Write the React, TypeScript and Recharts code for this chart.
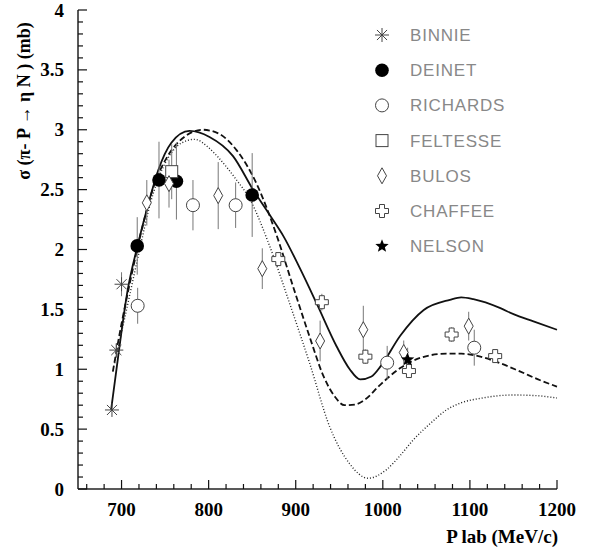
import React from 'react'
import {
  ComposedChart,
  Line,
  Scatter,
  ErrorBar,
  XAxis,
  YAxis,
} from 'recharts'

// theory curves, [P lab (MeV/c), sigma (mb)]
const solidCurve: [number, number][] = [
  [688, 0.66], [696, 1.1], [707, 1.66], [718, 2.02], [730, 2.36], [742, 2.66],
  [757, 2.89], [778, 2.99], [801, 2.94], [828, 2.78], [851, 2.5], [870, 2.29],
  [886, 2.11], [905, 1.84], [924, 1.55], [947, 1.19], [962, 1.0], [974, 0.915],
  [987, 0.94], [998, 1.03], [1020, 1.28], [1047, 1.495], [1077, 1.58], [1090, 1.6],
  [1104, 1.585], [1135, 1.51], [1150, 1.46], [1173, 1.4], [1200, 1.33],
]
const dashedCurve: [number, number][] = [
  [690, 0.98], [700, 1.38], [711, 1.77], [723, 2.16], [738, 2.55], [753, 2.78],
  [772, 2.94], [793, 3.0], [811, 2.97], [832, 2.83], [855, 2.55], [878, 2.12],
  [897, 1.69], [916, 1.27], [932, 0.94], [945, 0.77], [956, 0.7], [968, 0.705],
  [980, 0.75], [997, 0.87], [1020, 1.01], [1045, 1.1], [1073, 1.13], [1090, 1.13],
  [1112, 1.105], [1135, 1.05], [1158, 0.98], [1180, 0.91], [1200, 0.855],
]
const dottedCurve: [number, number][] = [
  [692, 1.05], [704, 1.44], [719, 1.94], [734, 2.41], [750, 2.72], [769, 2.89],
  [784, 2.92], [800, 2.85], [811, 2.77], [830, 2.6], [848, 2.41], [870, 2.03],
  [893, 1.55], [916, 1.05], [939, 0.52], [962, 0.21], [983, 0.09], [1004, 0.16],
  [1020, 0.28], [1035, 0.41], [1055, 0.55], [1073, 0.66], [1090, 0.72],
  [1112, 0.757], [1150, 0.785], [1175, 0.78], [1200, 0.76],
]

// measurements, [P lab, sigma, error]
const binnie: [number, number, number][] = [
  [689, 0.66, 0], [694, 1.16, 0.05], [700, 1.71, 0.1],
]
const deinet: [number, number, number][] = [
  [718, 2.03, 0.24], [743, 2.58, 0.32], [763, 2.57, 0.32], [850, 2.455, 0.35],
]
const richards: [number, number, number][] = [
  [718.5, 1.53, 0.15], [782, 2.37, 0.21], [831, 2.37, 0.19], [1005, 1.055, 0.14],
  [1105, 1.18, 0.15],
]
const feltesse: [number, number, number][] = [[757.6, 2.65, 0.23]]
const bulos: [number, number, number][] = [
  [729, 2.39, 0.19], [754.5, 2.55, 0.2], [811, 2.45, 0.28], [861.6, 1.84, 0.17],
  [928, 1.236, 0.17], [977.6, 1.33, 0.2], [1024, 1.14, 0.1], [1098.6, 1.36, 0.12],
]
const chaffee: [number, number, number][] = [
  [880, 1.92, 0.05], [930, 1.56, 0.07], [980, 1.105, 0.06], [1030, 0.985, 0.05],
  [1079, 1.29, 0.06], [1129, 1.11, 0.05],
]
const nelson: [number, number, number][] = [[1028.5, 1.08, 0.1]]

const X_DOMAIN: [number, number] = [650, 1200]
const Y_DOMAIN: [number, number] = [0, 4]
const X_MAJOR = [700, 800, 900, 1000, 1100, 1200]
const Y_MAJOR = [0, 0.5, 1, 1.5, 2, 2.5, 3, 3.5, 4]
const X_MINOR = Array.from({ length: 28 }, (_, i) => 660 + i * 20)
const Y_MINOR = Array.from({ length: 41 }, (_, i) => i / 10)

// plot box, from the chart margins below
const PLOT = { left: 78, top: 10, width: 479, height: 479 }

const toCurve = (arr: [number, number][]) => arr.map(([p, s]) => ({ p, s }))
const toPts = (arr: [number, number, number][]) => arr.map(([p, s, err]) => ({ p, s, err }))

type Kind = 'asterisk' | 'filled' | 'circle' | 'square' | 'diamond' | 'cross' | 'star'

const SERIES: { name: string; kind: Kind; data: [number, number, number][] }[] = [
  { name: 'BINNIE', kind: 'asterisk', data: binnie },
  { name: 'DEINET', kind: 'filled', data: deinet },
  { name: 'RICHARDS', kind: 'circle', data: richards },
  { name: 'FELTESSE', kind: 'square', data: feltesse },
  { name: 'BULOS', kind: 'diamond', data: bulos },
  { name: 'CHAFFEE', kind: 'cross', data: chaffee },
  { name: 'NELSON', kind: 'star', data: nelson },
]

const INK = '#444'
const SERIF = '"Liberation Serif", "Times New Roman", serif'

function Marker({ kind, cx, cy }: { kind: Kind; cx: number; cy: number }) {
  if (cx == null || cy == null) return null
  switch (kind) {
    case 'asterisk': {
      const r = 7
      const d = r * 0.72
      return (
        <g stroke={INK} strokeWidth={1}>
          <line x1={cx - r} y1={cy} x2={cx + r} y2={cy} />
          <line x1={cx} y1={cy - r} x2={cx} y2={cy + r} />
          <line x1={cx - d} y1={cy - d} x2={cx + d} y2={cy + d} />
          <line x1={cx - d} y1={cy + d} x2={cx + d} y2={cy - d} />
        </g>
      )
    }
    case 'filled':
      return <circle cx={cx} cy={cy} r={6.8} fill="#000" />
    case 'circle':
      return <circle cx={cx} cy={cy} r={6.5} fill="#fff" stroke={INK} strokeWidth={1} />
    case 'square':
      return <rect x={cx - 6} y={cy - 6} width={12} height={12} fill="#fff" stroke={INK} strokeWidth={1} />
    case 'diamond':
      return (
        <polygon
          points={`${cx},${cy - 8} ${cx + 4.5},${cy} ${cx},${cy + 8} ${cx - 4.5},${cy}`}
          fill="#fff"
          stroke={INK}
          strokeWidth={1}
        />
      )
    case 'cross': {
      const a = 2.5
      const b = 6.5
      const pts = [
        [-a, -b], [a, -b], [a, -a], [b, -a], [b, a], [a, a],
        [a, b], [-a, b], [-a, a], [-b, a], [-b, -a], [-a, -a],
      ].map(([x, y]) => `${cx + x},${cy + y}`).join(' ')
      return <polygon points={pts} fill="#fff" stroke={INK} strokeWidth={1} />
    }
    case 'star': {
      const pts: string[] = []
      for (let i = 0; i < 10; i++) {
        const r = i % 2 === 0 ? 7 : 3
        const ang = -Math.PI / 2 + (i * Math.PI) / 5
        pts.push(`${cx + r * Math.cos(ang)},${cy + r * Math.sin(ang)}`)
      }
      return <polygon points={pts.join(' ')} fill="#000" />
    }
  }
  return null
}

function XLabel(props: any) {
  const { x, y, payload } = props
  return (
    <text x={x} y={y + 27} textAnchor="middle" fontFamily={SERIF} fontWeight="bold" fontSize={19} fill="#000">
      {payload.value}
    </text>
  )
}

function YLabel(props: any) {
  const { x, y, payload } = props
  return (
    <text x={x - 14} y={y + 6.5} textAnchor="end" fontFamily={SERIF} fontWeight="bold" fontSize={19} fill="#000">
      {payload.value}
    </text>
  )
}

const px = (v: number) => PLOT.left + ((v - X_DOMAIN[0]) / (X_DOMAIN[1] - X_DOMAIN[0])) * PLOT.width
const py = (v: number) => PLOT.top + PLOT.height - ((v - Y_DOMAIN[0]) / (Y_DOMAIN[1] - Y_DOMAIN[0])) * PLOT.height

// inward ticks, titles and key, laid over the chart
function Overlay() {
  const bottom = PLOT.top + PLOT.height
  return (
    <svg
      width={598}
      height={547}
      style={{ position: 'absolute', left: 0, top: 0, pointerEvents: 'none' }}
    >
      <g stroke="#111" strokeWidth={1.2}>
        {X_MINOR.map((v) => (
          <line key={`x${v}`} x1={px(v)} x2={px(v)} y1={bottom} y2={bottom - (X_MAJOR.includes(v) ? 9 : 5)} />
        ))}
        {Y_MINOR.map((v) => (
          <line
            key={`y${v}`}
            x1={PLOT.left}
            x2={PLOT.left + (Y_MAJOR.includes(v) ? 9 : 5)}
            y1={py(v)}
            y2={py(v)}
          />
        ))}
      </g>
      <text x={558} y={543} textAnchor="end" fontFamily={SERIF} fontWeight="bold" fontSize={19} fill="#000">
        P lab (MeV/c)
      </text>
      <text
        transform="translate(30, 101) rotate(-90)"
        textAnchor="middle"
        fontFamily={SERIF}
        fontWeight="bold"
        fontSize={18}
        fill="#000"
      >
        σ (π- P → η N ) (mb)
      </text>
      <g transform="translate(370, 23)">
        {SERIES.map((s, i) => (
          <g key={s.name} transform={`translate(0, ${i * 35.2})`}>
            <Marker kind={s.kind} cx={12} cy={12} />
            <text
              x={40}
              y={18}
              fontFamily='"Liberation Sans", Arial, sans-serif'
              fontSize={17}
              letterSpacing={0.8}
              fill="#888"
            >
              {s.name}
            </text>
          </g>
        ))}
      </g>
    </svg>
  )
}

export default function App() {
  return (
    <div style={{ position: 'absolute', left: 0, top: 0, width: 598, height: 547, background: '#fff' }}>
      <ComposedChart width={598} height={547} margin={{ top: 10, right: 41, bottom: 0, left: 0 }}>
        <XAxis
          type="number"
          dataKey="p"
          domain={X_DOMAIN}
          ticks={X_MAJOR}
          interval={0}
          height={58}
          tickSize={0}
          tickMargin={0}
          tickLine={false}
          tick={(p: any) => <XLabel {...p} />}
          axisLine={{ stroke: '#222', strokeWidth: 1.5 }}
        />
        <XAxis
          xAxisId="top"
          orientation="top"
          type="number"
          domain={X_DOMAIN}
          height={0}
          tick={false}
          tickLine={false}
          axisLine={{ stroke: '#333', strokeWidth: 1.2 }}
        />
        <YAxis
          type="number"
          dataKey="s"
          domain={Y_DOMAIN}
          ticks={Y_MAJOR}
          interval={0}
          width={78}
          tickSize={0}
          tickMargin={0}
          tickLine={false}
          tick={(p: any) => <YLabel {...p} />}
          axisLine={{ stroke: '#222', strokeWidth: 1.5 }}
        />
        <YAxis
          yAxisId="right"
          orientation="right"
          type="number"
          domain={Y_DOMAIN}
          width={0}
          tick={false}
          tickLine={false}
          axisLine={{ stroke: '#333', strokeWidth: 1.2 }}
        />
        <Line
          data={toCurve(solidCurve)}
          dataKey="s"
          type="monotone"
          stroke="#111"
          strokeWidth={1.8}
          dot={false}
          activeDot={false}
          isAnimationActive={false}
        />
        <Line
          data={toCurve(dashedCurve)}
          dataKey="s"
          type="monotone"
          stroke="#111"
          strokeWidth={1.8}
          strokeDasharray="6 3"
          dot={false}
          activeDot={false}
          isAnimationActive={false}
        />
        <Line
          data={toCurve(dottedCurve)}
          dataKey="s"
          type="monotone"
          stroke="#222"
          strokeWidth={1.4}
          strokeDasharray="1 2"
          dot={false}
          activeDot={false}
          isAnimationActive={false}
        />
        {SERIES.map((s) => (
          <Scatter
            key={s.name}
            name={s.name}
            data={toPts(s.data)}
            isAnimationActive={false}
            shape={(p: any) => <Marker kind={s.kind} cx={p.cx} cy={p.cy} />}
          >
            <ErrorBar dataKey="err" direction="y" width={0} stroke="#777" strokeWidth={1} />
          </Scatter>
        ))}
      </ComposedChart>
      <Overlay />
    </div>
  )
}
